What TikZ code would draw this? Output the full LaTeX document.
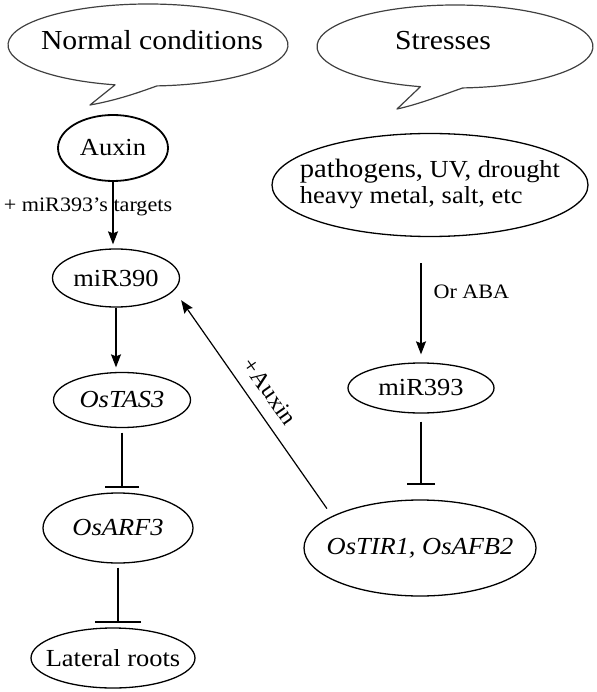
\documentclass[tikz,border=0pt]{standalone}
\usepackage{fontspec}
\setmainfont{Liberation Serif}[FakeStretch=1.08]
\usetikzlibrary{shapes.geometric,arrows.meta}
\begin{document}
\begin{tikzpicture}[x=1pt,y=1pt,
    arr/.tip={Stealth[length=13pt,width=10pt,inset=2pt]},
    oval/.style={draw,ellipse,line width=1.3pt,inner xsep=-60pt,inner ysep=0pt,font=\fontsize{24.5}{26}\selectfont},
    bubble/.style={draw=black!75,line width=1.2pt,line join=round},
    title/.style={font=\fontsize{27.5}{30}\selectfont},
    lbl/.style={font=\fontsize{20.5}{22}\selectfont,inner sep=2pt},
    act/.style={line width=1.2pt,-arr},
    inh/.style={line width=1.2pt,-{Bar[width=#1,line width=2pt]}}]
    \useasboundingbox (0,0) rectangle (596,-692);
    \draw [bubble] (148,-45) ++(273.7:140 and 41) arc [start angle=273.7,end angle=616.4,x radius=140,y radius=41] -- (90,-105) .. controls (118,-100) and (140,-92) .. (157,-85.9);
    \node [title] (normal) at (152,-40.5) {Normal conditions};
    \draw [bubble] (455,-46.5) ++(273.3:138 and 41.5) arc [start angle=273.3,end angle=615.5,x radius=138,y radius=41.5] -- (397,-109) .. controls (420,-104) and (445,-94) .. (462.9,-87.9);
    \node [title] (stresses) at (443,-40.5) {Stresses};
    \node [oval,line width=1.8pt,minimum width=110pt,minimum height=66pt] (auxin) at (113,-148) {Auxin};
    \node [oval,minimum width=127pt,minimum height=58pt] (mir390) at (116,-278) {miR390};
    \node [oval,minimum width=137pt,minimum height=55pt] (ostas3) at (122,-400) {\itshape OsTAS3};
    \node [oval,minimum width=150pt,minimum height=70pt] (osarf3) at (118,-528) {\itshape OsARF3};
    \node [oval,minimum width=164pt,minimum height=60pt] (lateral) at (113,-658) {Lateral roots};
    \node [oval,minimum width=316pt,minimum height=103pt] (stress) at (430,-185) {\begin{tabular}{@{}l@{}}{\fontsize{26.5}{26}\selectfont pathogens,} UV, drought\\heavy metal, salt, etc\end{tabular}};
    \node [oval,minimum width=146pt,minimum height=50pt] (mir393) at (421,-388) {miR393};
    \node [oval,minimum width=232pt,minimum height=96pt] (ostir) at (420,-548) {\itshape OsTIR1, OsAFB2};
    \draw [act,shorten >=4pt] (auxin.south) -- (auxin.south |- mir390.north);
    \node [lbl] (targets) at (88,-207) {+ miR393's targets};
    \draw [act,shorten >=4.5pt] (mir390.south) -- (mir390.south |- ostas3.north);
    \draw [inh=34pt,shorten <=4.5pt,shorten >=4pt] (ostas3.south) -- (ostas3.south |- osarf3.north);
    \draw [inh=46pt,shorten <=4pt,shorten >=4pt] (osarf3.south) -- (osarf3.south |- lateral.north);
    \draw [act,shorten <=26pt,shorten >=8pt] (mir393.north |- stress.south) -- node [lbl,pos=0.44,right=10pt] (aba) {Or ABA} (mir393.north);
    \draw [inh=28pt,shorten <=8pt,shorten >=14pt] (mir393.south) -- (mir393.south |- ostir.north);
    \draw [line width=1.2pt,arr-,shorten <=12pt,shorten >=9pt] (mir390.-12.6) -- node [lbl,font=\fontsize{23}{24}\selectfont,sloped,above=10pt] (plusaux) {+Auxin} (ostir.160.8);
\end{tikzpicture}
\end{document}
